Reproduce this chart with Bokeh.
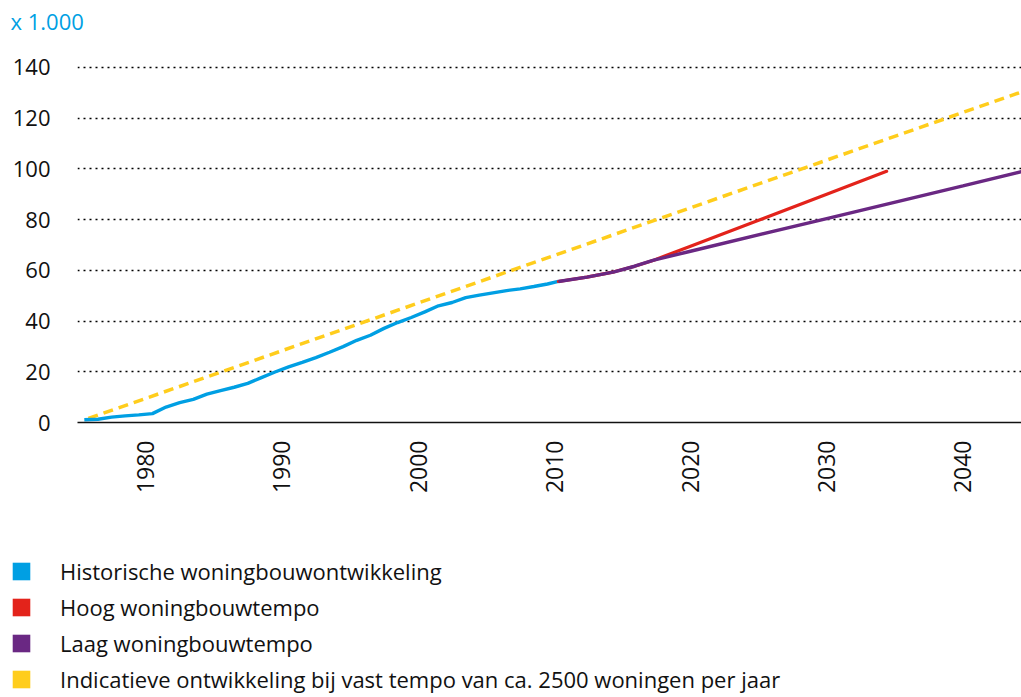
import math
from bokeh.plotting import figure
from bokeh.layouts import column, row
from bokeh.models import Legend, LegendItem, FixedTicker, Range1d
from bokeh.embed import file_html
from bokeh.resources import INLINE

# ---- data (x 1.000 woningen, cumulatief) ----
hist_years = [1975.5, 1976.5, 1977.5, 1978.5, 1979.5, 1980.5, 1981.5, 1982.5, 1983.5,
              1984.5, 1985.5, 1986.5, 1987.5, 1988.5, 1989.5, 1990.5, 1991.5, 1992.5,
              1993.5, 1994.5, 1995.5, 1996.5, 1997.5, 1998.5, 1999.5, 2000.5, 2001.5,
              2002.5, 2003.5, 2004.5, 2005.5, 2006.5, 2007.5, 2008.5, 2009.5, 2010.3]
hist_vals = [1.1, 1.3, 2.1, 2.6, 3.0, 3.5, 6.1, 7.8, 9.1,
             11.2, 12.6, 13.9, 15.4, 17.7, 19.9, 21.9, 23.7, 25.6,
             27.7, 29.9, 32.4, 34.4, 37.1, 39.4, 41.4, 43.6, 46.0,
             47.3, 49.2, 50.2, 51.1, 52.0, 52.7, 53.6, 54.6, 55.6]

laag_years = [2010.3, 2012.4, 2014.4, 2015.9, 2017.3, 2020, 2030, 2040, 2044.3]
laag_vals = [55.6, 57.3, 59.4, 61.6, 64.0, 67.5, 80.4, 93.3, 98.9]

hoog_years = [2010.3, 2012.4, 2014.4, 2015.9, 2017.3, 2020, 2025, 2030, 2034.4]
hoog_vals = [55.6, 57.3, 59.4, 61.6, 64.0, 69.5, 79.7, 90.0, 99.0]

vast_years = [1975.8, 2044.3]
vast_vals = [1.6, 130.3]

y_ticks = [0, 20, 40, 60, 80, 100, 120, 140]
x_ticks = [1980, 1990, 2000, 2010, 2020, 2030, 2040]

labels = ["Historische woningbouwontwikkeling",
          "Hoog woningbouwtempo",
          "Laag woningbouwtempo",
          "Indicatieve ontwikkeling bij vast tempo van ca. 2500 woningen per jaar"]

BLUE = "#009FE3"
RED = "#E3231B"
PURPLE = "#6A2883"
YELLOW = "#FFCD1C"
FONT = "Open Sans"
TXT = "#111111"

p = figure(width=1021, height=500,
           x_range=Range1d(1975.0, 2044.3), y_range=Range1d(0, 149.8),
           output_backend="svg", toolbar_location=None,
           min_border_left=77, min_border_right=0, min_border_top=40,
           min_border_bottom=78)
p.outline_line_color = None
p.background_fill_color = "white"
p.border_fill_color = "white"

# title as unit label
p.title.text = "x 1.000"
p.title.text_color = BLUE
p.title.text_font = FONT
p.title.text_font_style = "normal"
p.title.text_font_size = "22px"
p.title.align = "left"
p.title.offset = -67
p.title.standoff = 10
p.title.vertical_align = "top"

# grid
p.xgrid.visible = False
p.ygrid.ticker = FixedTicker(ticks=y_ticks)
p.ygrid.grid_line_color = "#000000"
p.ygrid.grid_line_dash = "2 4"
p.ygrid.grid_line_width = 1.3

# y axis
p.yaxis.ticker = FixedTicker(ticks=y_ticks)
p.yaxis.axis_line_color = None
p.yaxis.major_tick_line_color = None
p.yaxis.minor_tick_line_color = None
p.yaxis.major_tick_out = 0
p.yaxis.major_tick_in = 0
p.yaxis.major_label_standoff = 27
p.yaxis.major_label_text_font = FONT
p.yaxis.major_label_text_font_size = "22px"
p.yaxis.major_label_text_color = TXT

# x axis
p.xaxis.ticker = FixedTicker(ticks=x_ticks)
p.xaxis.axis_line_color = "#111111"
p.xaxis.axis_line_width = 1.6
p.xaxis.major_tick_line_color = None
p.xaxis.minor_tick_line_color = None
p.xaxis.major_tick_out = 0
p.xaxis.major_tick_in = 0
p.xaxis.major_label_orientation = math.pi / 2
p.xaxis.major_label_standoff = 18
p.xaxis.major_label_text_font = FONT
p.xaxis.major_label_text_font_size = "23px"
p.xaxis.major_label_text_color = TXT

# lines
p.line(vast_years, vast_vals, line_color=YELLOW, line_width=3.5, line_dash="10 6")
p.line(hist_years, hist_vals, line_color=BLUE, line_width=3.4)
p.line(hoog_years, hoog_vals, line_color=RED, line_width=3.2, line_cap="round")
p.line(laag_years, laag_vals, line_color=PURPLE, line_width=3.4)

# ---- legend in its own strip below the chart ----
H2 = 197
lg = figure(width=1021, height=H2, x_range=Range1d(0, 1), y_range=Range1d(0, 1),
            output_backend="svg", toolbar_location=None,
            x_axis_type=None, y_axis_type=None,
            min_border_left=0, min_border_right=0, min_border_top=0, min_border_bottom=0)
lg.outline_line_color = None
lg.xgrid.visible = False
lg.ygrid.visible = False
lg.background_fill_color = "white"
lg.border_fill_color = "white"

nan = float("nan")
sw = []
for c in [BLUE, RED, PURPLE, YELLOW]:
    sw.append(lg.quad(left=[nan], right=[nan], top=[nan], bottom=[nan],
                      fill_color=c, line_color=None))

legend = Legend(items=[LegendItem(label=l, renderers=[r]) for l, r in zip(labels, sw)],
                orientation="vertical", location=(10, 3),
                glyph_width=22, glyph_height=22, label_height=22,
                label_standoff=28, spacing=6, padding=0, margin=0,
                border_line_color=None, background_fill_alpha=0,
                label_text_font=FONT, label_text_font_size="22px",
                label_text_color=TXT)
lg.add_layout(legend, "center")

layout = column(p, row(lg), spacing=0)
open("out.html", "w").write(file_html(layout, INLINE))
